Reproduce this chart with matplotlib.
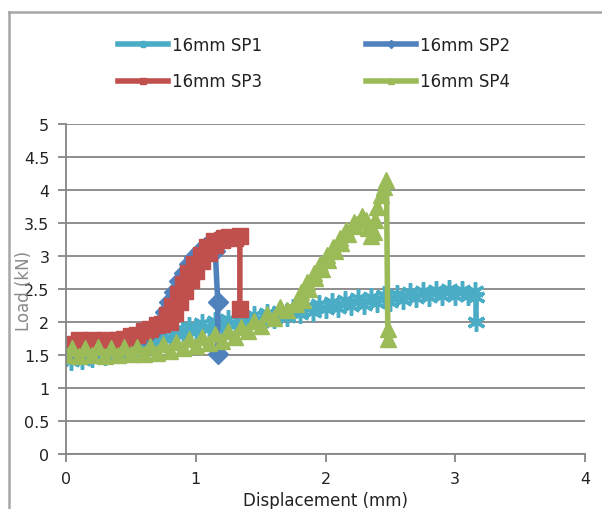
import matplotlib
matplotlib.use("Agg")
import matplotlib.pyplot as plt
from matplotlib.lines import Line2D

# 16mm SP1
x1 = [0.00, 0.04, 0.08, 0.12, 0.16, 0.20, 0.25, 0.30, 0.35, 0.40, 0.45, 0.50,
      0.55, 0.60, 0.65, 0.70, 0.75, 0.80, 0.85, 0.90, 0.95, 1.00, 1.05, 1.10,
      1.15, 1.20, 1.25, 1.30, 1.35, 1.40, 1.45, 1.50, 1.55, 1.60, 1.65, 1.70,
      1.75, 1.80, 1.85, 1.90, 1.95, 2.00, 2.05, 2.10, 2.15, 2.20, 2.25, 2.30,
      2.35, 2.40, 2.45, 2.50, 2.55, 2.60, 2.65, 2.70, 2.75, 2.80, 2.85, 2.90,
      2.95, 3.00, 3.05, 3.10, 3.15, 3.16, 3.16]
y1 = [1.47, 1.41, 1.52, 1.43, 1.54, 1.46, 1.57, 1.48, 1.60, 1.52, 1.64, 1.56,
      1.69, 1.61, 1.75, 1.67, 1.82, 1.74, 1.89, 1.80, 1.94, 1.85, 1.98, 1.89,
      2.02, 1.92, 2.04, 1.95, 2.07, 1.98, 2.10, 2.00, 2.13, 2.04, 2.17, 2.08,
      2.21, 2.12, 2.25, 2.15, 2.28, 2.19, 2.31, 2.21, 2.33, 2.24, 2.36, 2.26,
      2.38, 2.29, 2.41, 2.31, 2.43, 2.34, 2.45, 2.36, 2.47, 2.38, 2.49, 2.39,
      2.50, 2.40, 2.49, 2.39, 2.47, 2.38, 2.00]

# 16mm SP2
x2 = [0.00, 0.05, 0.10, 0.15, 0.20, 0.25, 0.30, 0.35, 0.40, 0.45, 0.50, 0.55,
      0.60, 0.65, 0.70, 0.73, 0.76, 0.79, 0.83, 0.87, 0.91, 0.95, 0.99, 1.03,
      1.07, 1.11, 1.15, 1.17, 1.17]
y2 = [1.55, 1.60, 1.62, 1.63, 1.64, 1.64, 1.65, 1.66, 1.68, 1.70, 1.73, 1.76,
      1.80, 1.85, 1.92, 2.00, 2.15, 2.30, 2.46, 2.62, 2.75, 2.88, 2.98, 3.08,
      3.13, 3.16, 3.08, 2.30, 1.52]

# 16mm SP3
x3 = [0.00, 0.03, 0.06, 0.10, 0.15, 0.20, 0.25, 0.30, 0.35, 0.40, 0.45, 0.50,
      0.55, 0.60, 0.65, 0.70, 0.74, 0.80, 0.78, 0.84, 0.82, 0.88, 0.86, 0.92,
      0.90, 0.96, 0.94, 1.00, 0.99, 1.05, 1.04, 1.10, 1.09, 1.15, 1.14, 1.20,
      1.22, 1.26, 1.30, 1.34, 1.34]
y3 = [1.60, 1.64, 1.67, 1.72, 1.69, 1.72, 1.69, 1.72, 1.70, 1.73, 1.74, 1.79,
      1.81, 1.87, 1.90, 1.96, 1.97, 2.00, 2.10, 2.14, 2.25, 2.30, 2.42, 2.47,
      2.58, 2.63, 2.74, 2.78, 2.88, 2.92, 3.01, 3.05, 3.13, 3.16, 3.22, 3.25,
      3.28, 3.29, 3.28, 3.30, 2.20]

# 16mm SP4
x4 = [0.00, 0.05, 0.10, 0.15, 0.20, 0.25, 0.30, 0.35, 0.40, 0.45, 0.50, 0.55,
      0.60, 0.65, 0.70, 0.75, 0.80, 0.85, 0.90, 0.95, 1.00, 1.05, 1.10, 1.15,
      1.20, 1.25, 1.30, 1.35, 1.40, 1.45, 1.50, 1.55, 1.60, 1.65, 1.70,
      1.77, 1.83, 1.81, 1.87, 1.86, 1.92, 1.91, 1.97, 1.96, 2.02, 2.01, 2.07,
      2.06, 2.12, 2.11, 2.17, 2.16, 2.22, 2.22, 2.28, 2.31, 2.33, 2.35, 2.37,
      2.38, 2.40, 2.43, 2.45, 2.47, 2.48, 2.48]
y4 = [1.50, 1.61, 1.49, 1.61, 1.50, 1.62, 1.49, 1.61, 1.50, 1.62, 1.51, 1.62,
      1.51, 1.63, 1.53, 1.66, 1.56, 1.70, 1.60, 1.74, 1.64, 1.78, 1.68, 1.82,
      1.71, 1.86, 1.78, 1.93, 1.86, 2.02, 1.94, 2.12, 2.06, 2.23, 2.18,
      2.28, 2.34, 2.45, 2.50, 2.60, 2.66, 2.75, 2.80, 2.88, 2.94, 3.02, 3.07,
      3.14, 3.20, 3.28, 3.33, 3.40, 3.46, 3.52, 3.60, 3.55, 3.42, 3.30, 3.36,
      3.55, 3.75, 3.92, 4.05, 4.15, 1.90, 1.75]

labels = ["16mm SP1", "16mm SP2", "16mm SP3", "16mm SP4"]
colors = ["#4BACC6", "#4F81BD", "#C0504D", "#9BBB59"]
grid_col = "#868686"

plt.rcParams['font.family'] = ['DejaVu Sans']

fig = plt.figure(figsize=(6.02, 5.10), dpi=100)
ax = fig.add_axes([66 / 602, 1 - 455 / 510, (585 - 66) / 602, (455 - 125) / 510])

l1, = ax.plot(x1, y1, color=colors[0], lw=4, marker=(6, 2, 0), ms=13, mew=2.5, label=labels[0])
l2, = ax.plot(x2, y2, color=colors[1], lw=4, marker="D", ms=10, label=labels[1])
l3, = ax.plot(x3, y3, color=colors[2], lw=4, marker="s", ms=11, label=labels[2])
l4, = ax.plot(x4, y4, color=colors[3], lw=4, marker="^", ms=12, label=labels[3])

ax.set_xlim(0, 4)
ax.set_ylim(0, 5)
ax.set_xticks([0, 1, 2, 3, 4])
ax.set_yticks([0, 0.5, 1, 1.5, 2, 2.5, 3, 3.5, 4, 4.5, 5])
ax.set_yticklabels(["0", "0.5", "1", "1.5", "2", "2.5", "3", "3.5", "4", "4.5", "5"])
ax.yaxis.grid(True, color=grid_col, lw=1.3)
ax.set_axisbelow(True)
for s in ["top", "right"]:
    ax.spines[s].set_visible(False)
for s in ["left", "bottom"]:
    ax.spines[s].set_color(grid_col)
    ax.spines[s].set_linewidth(1.3)
ax.tick_params(direction="out", length=6, width=1.3, color=grid_col,
               labelsize=11.5, labelcolor="#222222", pad=6)

ax.set_xlabel("Displacement (mm)", fontsize=12, color="#222222", labelpad=4)
fig.text(24 / 602, 1 - 291 / 510, "Load (kN)", rotation=90, ha="center", va="center",
         fontsize=12, color="#8a8a8a", zorder=0)

# row-wise legend order like the original
fig.legend([l1, l3, l2, l4], [labels[0], labels[2], labels[1], labels[3]],
           loc="upper left", bbox_to_anchor=(118 / 602, 1 - 37 / 510), ncol=2,
           frameon=False, fontsize=12, handlelength=3, handletextpad=0.25,
           columnspacing=6.2, labelspacing=1.1, borderpad=0, borderaxespad=0,
           markerscale=0.4, labelcolor="#222222")

# outer chart border
fig.add_artist(Line2D([9 / 602, 9 / 602], [0, 1 - 12.5 / 510], color="#a6a6a6", lw=1.8))
fig.add_artist(Line2D([9 / 602, 1], [1 - 12.5 / 510, 1 - 12.5 / 510], color="#a6a6a6", lw=1.8))

plt.savefig("out.png", dpi=100)
